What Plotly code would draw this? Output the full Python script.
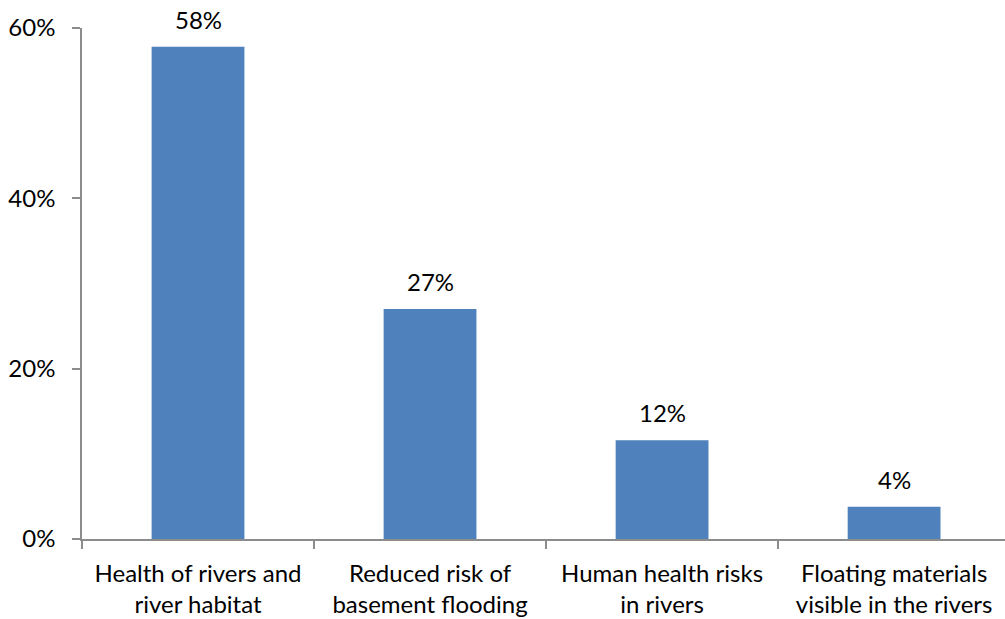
import plotly.graph_objects as go

categories = [
    "Health of rivers and<br>river habitat",
    "Reduced risk of<br>basement flooding",
    "Human health risks<br>in rivers",
    "Floating materials<br>visible in the rivers",
]
shares = [0.578, 0.27, 0.116, 0.038]
y_ticks = [0, 0.2, 0.4, 0.6]

FONT = "Lato"
FONT_SIZE = 24
AXIS_GREY = "#8c8c8c"

fig = go.Figure(
    go.Bar(
        x=categories,
        y=shares,
        width=0.4,
        marker=dict(color="#4f81bd", line=dict(width=0)),
        hoverinfo="x+y",
    )
)

# value labels floating above each bar
for cat, val in zip(categories, shares):
    fig.add_annotation(
        x=cat,
        y=val,
        text=f"{val:.0%}",
        showarrow=False,
        yanchor="bottom",
        yshift=11,
        font=dict(family=FONT, size=FONT_SIZE, color="#000000"),
    )

fig.update_layout(
    width=1005,
    height=619,
    margin=dict(l=82, r=0, t=28, b=80),
    paper_bgcolor="white",
    plot_bgcolor="white",
    showlegend=False,
    font=dict(family=FONT, size=FONT_SIZE, color="#000000"),
)

fig.update_xaxes(
    type="category",
    range=[-0.5, 3.478],
    tickson="boundaries",
    ticks="outside",
    ticklen=8,
    tickcolor=AXIS_GREY,
    tickwidth=1.5,
    ticklabelstandoff=12,
    showline=True,
    linecolor=AXIS_GREY,
    linewidth=1.5,
    showgrid=False,
    zeroline=False,
    tickfont=dict(family=FONT, size=FONT_SIZE, color="#000000"),
)

fig.update_yaxes(
    range=[0, 0.6],
    tickvals=y_ticks,
    tickformat=".0%",
    ticks="outside",
    ticklen=8,
    tickcolor=AXIS_GREY,
    tickwidth=1.5,
    ticklabelstandoff=12,
    showline=True,
    linecolor=AXIS_GREY,
    linewidth=1.5,
    showgrid=False,
    zeroline=False,
    tickfont=dict(family=FONT, size=FONT_SIZE, color="#000000"),
)

fig.write_html("out.html")
